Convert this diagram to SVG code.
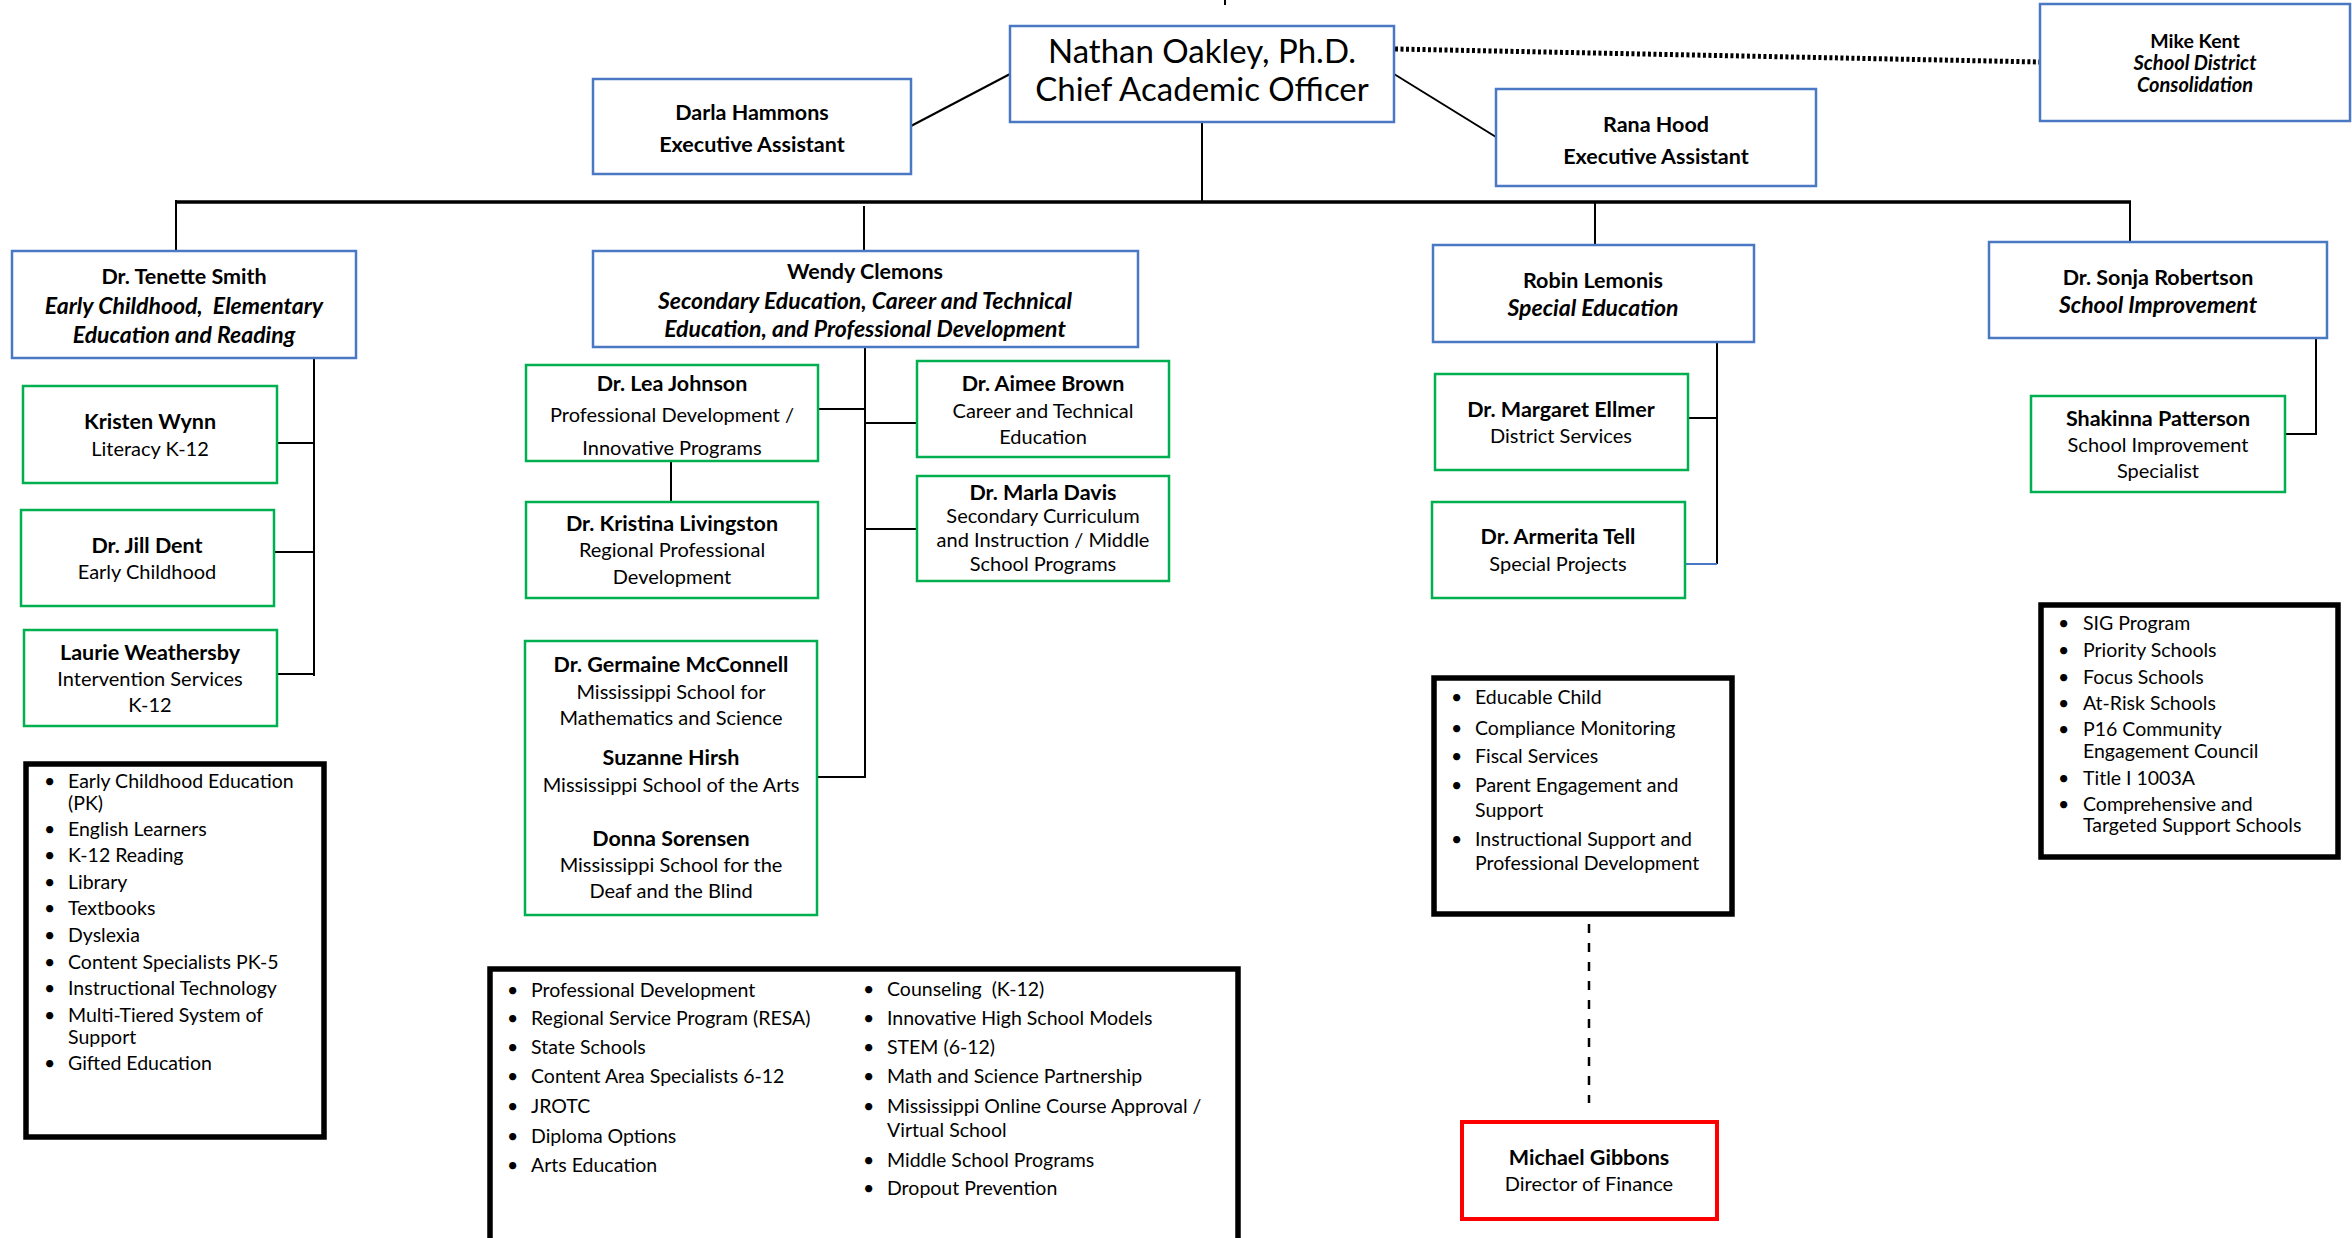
<svg xmlns="http://www.w3.org/2000/svg" width="2352" height="1238" viewBox="0 0 2352 1238">
<style>
text{font-family:Lato,"Open Sans","Liberation Sans",sans-serif;fill:#000}
.c{text-anchor:middle}
.n{font-size:20px}
.b{font-size:21.5px;font-weight:bold}
.bi{font-size:23px;font-weight:bold;font-style:italic}
.l{font-size:19.5px}
.blue{fill:#fff;stroke:#4A78C2;stroke-width:2.5}
.green{fill:#fff;stroke:#00B050;stroke-width:2.5}
.red{fill:#fff;stroke:#FF0000;stroke-width:4}
.blk{fill:#fff;stroke:#000;stroke-width:5.5}
.ln{stroke:#000;stroke-width:2;fill:none}
</style>
<rect width="2352" height="1238" fill="#fff"/>
<g id="connectors">
<line class="ln" x1="1225" y1="0" x2="1225" y2="5"/>
<line class="ln" x1="911" y1="126" x2="1010" y2="74"/>
<line class="ln" x1="1394" y1="74" x2="1496" y2="137"/>
<line x1="1395" y1="49" x2="2040" y2="62" stroke="#000" stroke-width="5" stroke-dasharray="3 2.5"/>
<line class="ln" x1="1202" y1="122" x2="1202" y2="202"/>
<line x1="176" y1="202" x2="2131" y2="202" stroke="#000" stroke-width="3.5"/>
<line class="ln" x1="176" y1="200" x2="176" y2="251"/>
<line class="ln" x1="864" y1="206" x2="864" y2="251"/>
<line class="ln" x1="1595" y1="202" x2="1595" y2="245"/>
<line class="ln" x1="2130" y1="202" x2="2130" y2="242"/>
<path class="ln" d="M314 358V676M277 443H314M274 552H314M277 674H314"/>
<path class="ln" d="M865 347V778M818 409H865M865 423H917M865 529H917M817 777H865"/>
<line class="ln" x1="671" y1="461" x2="671" y2="502"/>
<path class="ln" d="M1717 342V564M1688 418H1717"/>
<line x1="1685" y1="564" x2="1717" y2="564" stroke="#4A78C2" stroke-width="2"/>
<path class="ln" d="M2316 338V434H2285"/>
<line x1="1589" y1="924" x2="1589" y2="1103" stroke="#000" stroke-width="2.5" stroke-dasharray="9 10"/>
</g>
<g id="nathan">
<rect class="blue" x="1010" y="26" width="384" height="96"/>
<text class="c" x="1202" y="63" font-size="33">Nathan Oakley, Ph.D.</text>
<text class="c" x="1202" y="101" font-size="33">Chief Academic Officer</text>
</g>
<g id="darla">
<rect class="blue" x="593" y="79" width="318" height="95"/>
<text class="c b" x="752" y="120">Darla Hammons</text>
<text class="c b" x="752" y="152">Executive Assistant</text>
</g>
<g id="rana">
<rect class="blue" x="1496" y="89" width="320" height="97"/>
<text class="c b" x="1656" y="132">Rana Hood</text>
<text class="c b" x="1656" y="164">Executive Assistant</text>
</g>
<g id="mike">
<rect class="blue" x="2040" y="4" width="310" height="117"/>
<text class="c" x="2195" y="48" font-size="19.5" font-weight="bold">Mike Kent</text>
<text class="c" x="2195" y="70" font-size="20" font-weight="bold" font-style="italic">School District</text>
<text class="c" x="2195" y="92" font-size="20" font-weight="bold" font-style="italic">Consolidation</text>
</g>
<g id="tenette">
<rect class="blue" x="12" y="251" width="344" height="107"/>
<text class="c b" x="184" y="284">Dr. Tenette Smith</text>
<text class="c bi" x="184" y="314" xml:space="preserve">Early Childhood,  Elementary</text>
<text class="c bi" x="184" y="343">Education and Reading</text>
</g>
<g id="wendy">
<rect class="blue" x="593" y="251" width="545" height="96"/>
<text class="c b" x="865" y="279">Wendy Clemons</text>
<text class="c bi" x="865" y="309">Secondary Education, Career and Technical</text>
<text class="c bi" x="865" y="337">Education, and Professional Development</text>
</g>
<g id="robin">
<rect class="blue" x="1433" y="245" width="321" height="97"/>
<text class="c b" x="1593" y="288">Robin Lemonis</text>
<text class="c bi" x="1593" y="316">Special Education</text>
</g>
<g id="sonja">
<rect class="blue" x="1989" y="242" width="338" height="96"/>
<text class="c b" x="2158" y="285">Dr. Sonja Robertson</text>
<text class="c bi" x="2158" y="313">School Improvement</text>
</g>
<g id="kristen">
<rect class="green" x="23" y="386" width="254" height="97"/>
<text class="c b" x="150" y="429">Kristen Wynn</text>
<text class="c n" x="150" y="456">Literacy K-12</text>
</g>
<g id="jill">
<rect class="green" x="21" y="510" width="253" height="96"/>
<text class="c b" x="147" y="553">Dr. Jill Dent</text>
<text class="c n" x="147" y="579">Early Childhood</text>
</g>
<g id="laurie">
<rect class="green" x="24" y="630" width="253" height="96"/>
<text class="c b" x="150" y="660">Laurie Weathersby</text>
<text class="c n" x="150" y="686">Intervention Services</text>
<text class="c n" x="150" y="712">K-12</text>
</g>
<g id="lea">
<rect class="green" x="526" y="365" width="292" height="96"/>
<text class="c b" x="672" y="391">Dr. Lea Johnson</text>
<text class="c n" x="672" y="422">Professional Development /</text>
<text class="c n" x="672" y="455">Innovative Programs</text>
</g>
<g id="kristina">
<rect class="green" x="526" y="502" width="292" height="96"/>
<text class="c b" x="672" y="531">Dr. Kristina Livingston</text>
<text class="c n" x="672" y="557">Regional Professional</text>
<text class="c n" x="672" y="584">Development</text>
</g>
<g id="aimee">
<rect class="green" x="917" y="361" width="252" height="96"/>
<text class="c b" x="1043" y="391">Dr. Aimee Brown</text>
<text class="c n" x="1043" y="418">Career and Technical</text>
<text class="c n" x="1043" y="444">Education</text>
</g>
<g id="marla">
<rect class="green" x="917" y="476" width="252" height="105"/>
<text class="c b" x="1043" y="500">Dr. Marla Davis</text>
<text class="c n" x="1043" y="523">Secondary Curriculum</text>
<text class="c n" x="1043" y="547">and Instruction / Middle</text>
<text class="c n" x="1043" y="571">School Programs</text>
</g>
<g id="germaine">
<rect class="green" x="525" y="641" width="292" height="274"/>
<text class="c b" x="671" y="672">Dr. Germaine McConnell</text>
<text class="c n" x="671" y="699">Mississippi School for</text>
<text class="c n" x="671" y="725">Mathematics and Science</text>
<text class="c b" x="671" y="765">Suzanne Hirsh</text>
<text class="c n" x="671" y="792">Mississippi School of the Arts</text>
<text class="c b" x="671" y="846">Donna Sorensen</text>
<text class="c n" x="671" y="872">Mississippi School for the</text>
<text class="c n" x="671" y="898">Deaf and the Blind</text>
</g>
<g id="ellmer">
<rect class="green" x="1435" y="374" width="253" height="96"/>
<text class="c b" x="1561" y="417">Dr. Margaret Ellmer</text>
<text class="c n" x="1561" y="443">District Services</text>
</g>
<g id="tell">
<rect class="green" x="1432" y="502" width="253" height="96"/>
<text class="c b" x="1558" y="544">Dr. Armerita Tell</text>
<text class="c n" x="1558" y="571">Special Projects</text>
</g>
<g id="shakinna">
<rect class="green" x="2031" y="396" width="254" height="96"/>
<text class="c b" x="2158" y="426">Shakinna Patterson</text>
<text class="c n" x="2158" y="452">School Improvement</text>
<text class="c n" x="2158" y="478">Specialist</text>
</g>
<g id="michael">
<rect class="red" x="1462" y="1122" width="255" height="97"/>
<text class="c b" x="1589" y="1165">Michael Gibbons</text>
<text class="c n" x="1589" y="1191">Director of Finance</text>
</g>
<g id="tenette-list">
<rect class="blk" x="26" y="764" width="298" height="373"/>
<g class="l">
<text x="44" y="788">•</text><text x="68" y="788">Early Childhood Education</text>
<text x="68" y="810">(PK)</text>
<text x="44" y="836">•</text><text x="68" y="836">English Learners</text>
<text x="44" y="862">•</text><text x="68" y="862">K-12 Reading</text>
<text x="44" y="889">•</text><text x="68" y="889">Library</text>
<text x="44" y="915">•</text><text x="68" y="915">Textbooks</text>
<text x="44" y="942">•</text><text x="68" y="942">Dyslexia</text>
<text x="44" y="969">•</text><text x="68" y="969">Content Specialists PK-5</text>
<text x="44" y="995">•</text><text x="68" y="995">Instructional Technology</text>
<text x="44" y="1022">•</text><text x="68" y="1022">Multi-Tiered System of</text>
<text x="68" y="1044">Support</text>
<text x="44" y="1070">•</text><text x="68" y="1070">Gifted Education</text>
</g>
</g>
<g id="wendy-list">
<rect class="blk" x="490" y="969" width="748" height="290"/>
<g class="l">
<text x="507" y="997">•</text><text x="531" y="997">Professional Development</text>
<text x="507" y="1025">•</text><text x="531" y="1025">Regional Service Program (RESA)</text>
<text x="507" y="1054">•</text><text x="531" y="1054">State Schools</text>
<text x="507" y="1083">•</text><text x="531" y="1083">Content Area Specialists 6-12</text>
<text x="507" y="1113">•</text><text x="531" y="1113">JROTC</text>
<text x="507" y="1143">•</text><text x="531" y="1143">Diploma Options</text>
<text x="507" y="1172">•</text><text x="531" y="1172">Arts Education</text>
<text x="863" y="996">•</text><text x="887" y="996" xml:space="preserve">Counseling  (K-12)</text>
<text x="863" y="1025">•</text><text x="887" y="1025">Innovative High School Models</text>
<text x="863" y="1054">•</text><text x="887" y="1054">STEM (6-12)</text>
<text x="863" y="1083">•</text><text x="887" y="1083">Math and Science Partnership</text>
<text x="863" y="1113">•</text><text x="887" y="1113">Mississippi Online Course Approval /</text>
<text x="887" y="1137">Virtual School</text>
<text x="863" y="1167">•</text><text x="887" y="1167">Middle School Programs</text>
<text x="863" y="1195">•</text><text x="887" y="1195">Dropout Prevention</text>
</g>
</g>
<g id="robin-list">
<rect class="blk" x="1434" y="678" width="298" height="236"/>
<g class="l">
<text x="1451" y="704">•</text><text x="1475" y="704">Educable Child</text>
<text x="1451" y="735">•</text><text x="1475" y="735">Compliance Monitoring</text>
<text x="1451" y="763">•</text><text x="1475" y="763">Fiscal Services</text>
<text x="1451" y="792">•</text><text x="1475" y="792">Parent Engagement and</text>
<text x="1475" y="817">Support</text>
<text x="1451" y="846">•</text><text x="1475" y="846">Instructional Support and</text>
<text x="1475" y="870">Professional Development</text>
</g>
</g>
<g id="sonja-list">
<rect class="blk" x="2041" y="605" width="297" height="252"/>
<g class="l">
<text x="2058" y="630">•</text><text x="2083" y="630">SIG Program</text>
<text x="2058" y="657">•</text><text x="2083" y="657">Priority Schools</text>
<text x="2058" y="684">•</text><text x="2083" y="684">Focus Schools</text>
<text x="2058" y="710">•</text><text x="2083" y="710">At-Risk Schools</text>
<text x="2058" y="736">•</text><text x="2083" y="736">P16 Community</text>
<text x="2083" y="758">Engagement Council</text>
<text x="2058" y="785">•</text><text x="2083" y="785">Title I 1003A</text>
<text x="2058" y="811">•</text><text x="2083" y="811">Comprehensive and</text>
<text x="2083" y="832">Targeted Support Schools</text>
</g>
</g>
</svg>
